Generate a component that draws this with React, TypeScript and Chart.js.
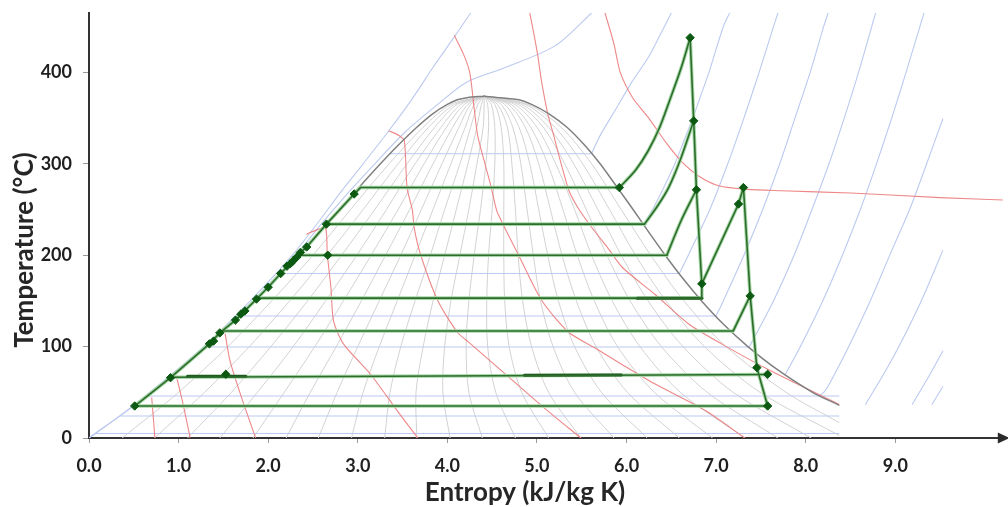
import React, { useEffect, useRef } from 'react';
import { Chart, registerables } from 'chart.js';

Chart.register(...registerables);

type P = [number, number];

// ---------- axes ----------
const xTickValues = [0, 1, 2, 3, 4, 5, 6, 7, 8, 9];
const yTickValues = [0, 100, 200, 300, 400];
const xMax = 10.2;
const yMax = 465;
const xTitle = 'Entropy (kJ/kg K)';
const yTitle = 'Temperature (°C)';

// ---------- saturation dome ----------
const satLiquid: P[] = [[0.505, 35], [0.704, 50], [1.016, 75], [1.307, 100], [1.581, 125], [1.842, 150], [2.091, 175], [2.331, 200], [2.564, 225], [2.793, 250], [3.021, 275], [3.253, 300], [3.448, 320], [3.659, 340], [3.84, 355], [4.0, 365], [4.111, 370], [4.22, 372.3], [4.41, 374]];
const satVapor: P[] = [[4.41, 374], [4.6, 372.3], [4.801, 370], [4.94, 365], [5.13, 355], [5.335, 340], [5.536, 320], [5.705, 300], [5.89, 275], [6.073, 250], [6.25, 225], [6.432, 200], [6.625, 175], [6.838, 150], [7.077, 125], [7.355, 100], [7.681, 75], [8.076, 50], [8.37, 36]];

// ---------- constant quality lines (x = 0.04 ... 0.96) ----------
const qualityLines: P[][] = [
  [[0.37, 0], [1.0, 50], [1.55, 100], [2.04, 150], [2.5, 200], [2.92, 250], [3.35, 300], [3.73, 340], [4.04, 365], [4.41, 374]],
  [[0.73, 0], [1.29, 50], [1.79, 100], [2.24, 150], [2.66, 200], [3.06, 250], [3.45, 300], [3.79, 340], [4.08, 365], [4.41, 374]],
  [[1.1, 0], [1.59, 50], [2.03, 100], [2.44, 150], [2.82, 200], [3.19, 250], [3.55, 300], [3.86, 340], [4.11, 365], [4.41, 374]],
  [[1.46, 0], [1.88, 50], [2.28, 100], [2.64, 150], [2.99, 200], [3.32, 250], [3.64, 300], [3.93, 340], [4.15, 365], [4.41, 374]],
  [[1.83, 0], [2.18, 50], [2.52, 100], [2.84, 150], [3.15, 200], [3.45, 250], [3.74, 300], [3.99, 340], [4.19, 365], [4.41, 374]],
  [[2.2, 0], [2.47, 50], [2.76, 100], [3.04, 150], [3.31, 200], [3.58, 250], [3.84, 300], [4.06, 340], [4.23, 365], [4.41, 374]],
  [[2.56, 0], [2.77, 50], [3.0, 100], [3.24, 150], [3.48, 200], [3.71, 250], [3.94, 300], [4.13, 340], [4.26, 365], [4.41, 374]],
  [[2.93, 0], [3.06, 50], [3.24, 100], [3.44, 150], [3.64, 200], [3.84, 250], [4.04, 300], [4.2, 340], [4.3, 365], [4.41, 374]],
  [[3.3, 0], [3.36, 50], [3.48, 100], [3.64, 150], [3.81, 200], [3.97, 250], [4.14, 300], [4.26, 340], [4.34, 365], [4.41, 374]],
  [[3.66, 0], [3.65, 50], [3.73, 100], [3.84, 150], [3.97, 200], [4.1, 250], [4.23, 300], [4.33, 340], [4.38, 365], [4.41, 374]],
  [[4.03, 0], [3.95, 50], [3.97, 100], [4.04, 150], [4.14, 200], [4.24, 250], [4.33, 300], [4.4, 340], [4.41, 365], [4.41, 374]],
  [[4.39, 0], [4.24, 50], [4.21, 100], [4.24, 150], [4.3, 200], [4.37, 250], [4.43, 300], [4.46, 340], [4.45, 365], [4.41, 374]],
  [[4.76, 0], [4.54, 50], [4.45, 100], [4.44, 150], [4.46, 200], [4.5, 250], [4.53, 300], [4.53, 340], [4.49, 365], [4.41, 374]],
  [[5.13, 0], [4.83, 50], [4.69, 100], [4.64, 150], [4.63, 200], [4.63, 250], [4.63, 300], [4.6, 340], [4.53, 365], [4.41, 374]],
  [[5.49, 0], [5.13, 50], [4.94, 100], [4.84, 150], [4.79, 200], [4.76, 250], [4.72, 300], [4.67, 340], [4.56, 365], [4.41, 374]],
  [[5.86, 0], [5.42, 50], [5.18, 100], [5.04, 150], [4.96, 200], [4.89, 250], [4.82, 300], [4.73, 340], [4.6, 365], [4.41, 374]],
  [[6.23, 0], [5.72, 50], [5.42, 100], [5.24, 150], [5.12, 200], [5.02, 250], [4.92, 300], [4.8, 340], [4.64, 365], [4.41, 374]],
  [[6.59, 0], [6.01, 50], [5.66, 100], [5.44, 150], [5.28, 200], [5.15, 250], [5.02, 300], [4.87, 340], [4.68, 365], [4.41, 374]],
  [[6.96, 0], [6.31, 50], [5.9, 100], [5.64, 150], [5.45, 200], [5.29, 250], [5.12, 300], [4.93, 340], [4.71, 365], [4.41, 374]],
  [[7.32, 0], [6.6, 50], [6.15, 100], [5.84, 150], [5.61, 200], [5.42, 250], [5.21, 300], [5.0, 340], [4.75, 365], [4.41, 374]],
  [[7.69, 0], [6.9, 50], [6.39, 100], [6.04, 150], [5.78, 200], [5.55, 250], [5.31, 300], [5.07, 340], [4.79, 365], [4.41, 374]],
  [[8.06, 0], [7.19, 50], [6.63, 100], [6.24, 150], [5.94, 200], [5.68, 250], [5.41, 300], [5.13, 340], [4.83, 365], [4.41, 374]],
  [[8.37, 3], [7.49, 50], [6.87, 100], [6.44, 150], [6.1, 200], [5.81, 250], [5.51, 300], [5.2, 340], [4.87, 365], [4.41, 374]],
  [[8.37, 17], [7.78, 50], [7.11, 100], [6.64, 150], [6.27, 200], [5.94, 250], [5.61, 300], [5.27, 340], [4.9, 365], [4.41, 374]],
];

// ---------- isenthalps (red) ----------
const isenthalp1: P[] = [[0.7, 44], [0.72, 20], [0.735, 0]];
const isenthalp2: P[] = [[0.98, 66], [1.05, 37], [1.13, 0]];
const isenthalp3: P[] = [[1.52, 114], [1.575, 84], [1.69, 48], [1.86, 0]];
const isenthalp4: P[] = [[2.43, 223], [2.55, 228], [2.64, 230], [2.66, 201], [2.7, 165], [2.73, 128], [2.84, 103], [3.14, 70], [3.44, 30], [3.67, 0]];
const isenthalp5: P[] = [[3.35, 336], [3.46, 331], [3.52, 325], [3.55, 274], [3.61, 249], [3.63, 230], [3.7, 201], [3.89, 151], [4.11, 116], [4.26, 103], [4.67, 68], [5.08, 33], [5.49, 0]];
const isenthalp6: P[] = [[4.08, 440], [4.18, 420], [4.25, 400], [4.3, 360], [4.34, 330], [4.42, 300], [4.49, 274], [4.55, 249], [4.6, 238], [4.79, 201], [5.05, 151], [5.35, 116], [5.64, 99], [5.94, 81], [6.32, 59], [6.88, 30], [7.32, 0]];
const isenthalp7: P[] = [[4.92, 465], [4.97, 440], [5.01, 418], [5.05, 391], [5.12, 355], [5.19, 330], [5.27, 300], [5.36, 270], [5.47, 250], [5.6, 232], [5.79, 208], [5.96, 186], [6.32, 157], [6.69, 125], [7.06, 103], [7.62, 73], [8.37, 37]];
const isenthalp8: P[] = [[5.76, 465], [5.86, 431], [5.93, 400], [6.07, 372], [6.24, 351], [6.45, 322], [6.61, 303], [6.8, 287], [7.03, 276], [7.35, 272], [7.73, 270.5], [8.5, 268], [9.5, 263], [10.3, 260]];

// ---------- isobars (blue) ----------
const isobarWet: P[][] = [
  [[3.36, 311], [5.61, 311]],
  [[2.14, 180], [6.59, 180]],
  [[1.66, 133.5], [7.0, 133.5]],
  [[1.3, 99.6], [7.36, 99.6]],
  [[0.65, 46], [8.37, 46]],
  [[0.35, 24], [8.37, 24]],
  [[0.08, 5], [8.37, 5]],
];
const isobarSuperheated: P[][] = [
  [[5.61, 311], [5.7, 330], [5.87, 358], [6.05, 388], [6.24, 416], [6.38, 442], [6.5, 465]],
  [[6.19, 234], [6.29, 250], [6.42, 275], [6.54, 300], [6.64, 325], [6.74, 350], [6.83, 375], [6.92, 400], [7.08, 450], [7.15, 465]],
  [[6.59, 180], [6.69, 200], [6.93, 250], [7.13, 300], [7.31, 350], [7.48, 400], [7.64, 450], [7.69, 465]],
  [[7.0, 133.5], [7.08, 150], [7.31, 200], [7.52, 250], [7.71, 300], [7.88, 350], [8.05, 400], [8.2, 450], [8.25, 465]],
  [[7.37, 99.6], [7.64, 150], [7.87, 200], [8.07, 250], [8.26, 300], [8.43, 350], [8.59, 400], [8.78, 465]],
  [[7.77, 69], [7.94, 100], [8.19, 150], [8.41, 200], [8.61, 250], [8.79, 300], [8.96, 350], [9.12, 400], [9.32, 465]],
  [[8.15, 46], [8.22, 52], [8.35, 75], [8.48, 100], [8.72, 150], [8.96, 205], [9.16, 250], [9.35, 300], [9.53, 349]],
  [[8.67, 37], [8.9, 75], [9.04, 100], [9.29, 150], [9.53, 205]],
  [[9.19, 37], [9.36, 65], [9.53, 95]],
  [[9.41, 37], [9.53, 56]],
];
const isobarHigh1: P[] = [[0.0, 0], [0.5, 36], [1.28, 100], [1.8, 150], [2.27, 200], [2.55, 235], [2.81, 269], [3.06, 300], [3.33, 334], [3.6, 370], [3.85, 407], [4.05, 435], [4.26, 465]];
const isobarHigh2: P[] = [[0.0, 0], [0.51, 36], [1.3, 100], [1.83, 150], [2.31, 200], [2.6, 235], [2.9, 269], [3.19, 300], [3.52, 334], [3.88, 364], [4.21, 389], [4.61, 404], [5.2, 429], [5.61, 465]];

// ---------- cycle (green) ----------
const pumpLiquidLine: P[] = [[0.51, 35], [0.91, 66], [1.344, 103], [1.46, 115], [1.635, 129], [1.87, 152], [2.0, 165], [2.14, 180], [2.36, 203], [2.43, 209], [2.65, 234], [2.96, 267], [3.03, 274]];
const boil274: P[] = [[3.03, 274], [5.92, 274]];
const line234: P[] = [[2.65, 234], [6.2, 234]];
const line200: P[] = [[2.33, 200], [6.45, 200]];
const line153: P[] = [[1.87, 153], [6.84, 153]];
const line117: P[] = [[1.47, 117], [7.19, 117], [7.38, 155.5]];
const line69: P[] = [[0.91, 66.5], [7.575, 69.5]];
const line35: P[] = [[0.51, 35], [7.575, 35]];
const expansion1: P[] = [[6.71, 438], [6.75, 347], [6.78, 271.6], [6.84, 168.7], [6.84, 153]];
const reheat: P[] = [[6.84, 168.7], [7.25, 256], [7.305, 274]];
const expansion2: P[] = [[7.305, 274], [7.38, 155.5], [7.455, 77], [7.575, 35]];
const superheat1: P[] = [[5.92, 274], [6.1, 293], [6.24, 314], [6.37, 340], [6.48, 369], [6.61, 405], [6.71, 438]];
const superheat2: P[] = [[6.2, 234], [6.34, 253], [6.47, 274], [6.61, 307], [6.75, 347]];
const superheat3: P[] = [[6.45, 200], [6.61, 238], [6.78, 271.6]];
const overlapSegments: P[][] = [
  [[1.1, 67.6], [1.75, 67.6]],
  [[4.86, 68.6], [5.94, 68.8]],
  [[6.12, 153], [6.84, 153]],
];
const cycleMarkers: P[] = [
  [0.51, 35], [0.91, 66], [1.344, 103], [1.39, 106], [1.46, 115], [1.635, 129], [1.695, 135.5], [1.74, 139],
  [1.87, 152], [2.0, 165], [2.14, 180], [2.21, 188], [2.25, 191], [2.28, 194], [2.32, 198], [2.36, 203],
  [2.43, 209], [2.65, 234], [2.96, 267], [1.527, 69.7], [2.665, 200],
  [5.92, 274], [6.71, 438], [6.75, 347], [6.78, 271.6], [6.84, 168.7], [7.305, 274], [7.25, 256],
  [7.38, 155.5], [7.455, 77], [7.575, 69.7], [7.575, 35],
];

// ---------- styles ----------
const RED = 'rgba(236,122,122,0.9)';
const BLUE = '#bccaf0';
const QUALITY = '#d2d2d2';
const DOME = '#808080';
const GREEN_CORE = '#2c6d2c';
const GREEN_HALO = '#a6d6a6';
const MARKER = '#0c5a12';

const toXY = (pts: P[]) => pts.map(([x, y]) => ({ x, y }));

const mk = (pts: P[], color: string, width: number, order: number, tension = 0) => ({
  data: toXY(pts),
  showLine: true,
  borderColor: color,
  backgroundColor: color,
  borderWidth: width,
  pointRadius: 0,
  pointHoverRadius: 0,
  tension,
  order,
  fill: false,
  borderJoinStyle: 'round' as const,
  borderCapStyle: 'round' as const,
});

const decorPlugin = {
  id: 'decor',
  afterDraw(chart: any) {
    const { ctx, chartArea } = chart;
    ctx.save();
    // arrow head on the x axis
    const y = chartArea.bottom;
    ctx.fillStyle = '#2a2a2a';
    ctx.beginPath();
    ctx.moveTo(chartArea.right + 7, y);
    ctx.lineTo(chartArea.right - 5, y - 5.5);
    ctx.lineTo(chartArea.right - 5, y + 5.5);
    ctx.closePath();
    ctx.fill();
    // axis titles
    ctx.fillStyle = '#262626';
    ctx.font = 'bold 26px Lato, "Open Sans", sans-serif';
    ctx.textAlign = 'center';
    ctx.textBaseline = 'alphabetic';
    ctx.fillText(xTitle, 525, 501);
    ctx.translate(33, 250);
    ctx.rotate(-Math.PI / 2);
    ctx.fillText(yTitle, 0, 0);
    ctx.restore();
  },
};

export default function App() {
  const ref = useRef<HTMLCanvasElement | null>(null);

  useEffect(() => {
    if (!ref.current) return;
    document.body.style.margin = '0';
    const datasets: any[] = [];

    datasets.push({
      data: toXY(cycleMarkers),
      showLine: false,
      pointStyle: 'rectRot',
      pointRadius: 4.2,
      pointHoverRadius: 4.2,
      pointBackgroundColor: MARKER,
      pointBorderColor: MARKER,
      pointBorderWidth: 1,
      order: 0,
    });

    const greenStraight = [pumpLiquidLine, boil274, line234, line200, line153, line117, line69, line35, expansion1, reheat, expansion2];
    const greenCurves = [superheat1, superheat2, superheat3];
    greenStraight.forEach((g) => {
      datasets.push(mk(g, GREEN_CORE, 1.6, 1));
      datasets.push(mk(g, GREEN_HALO, 3.6, 2));
    });
    greenCurves.forEach((g) => {
      datasets.push(mk(g, GREEN_CORE, 1.6, 1, 0.3));
      datasets.push(mk(g, GREEN_HALO, 3.6, 2, 0.3));
    });
    overlapSegments.forEach((g) => datasets.push(mk(g, '#1f5a1f', 3, 1)));

    datasets.push(mk(satLiquid, DOME, 1.5, 3, 0.3));
    datasets.push(mk(satVapor, DOME, 1.5, 3, 0.3));

    [isenthalp1, isenthalp2, isenthalp3, isenthalp4, isenthalp5, isenthalp6, isenthalp7, isenthalp8].forEach((r) =>
      datasets.push(mk(r, RED, 1.1, 4, 0.25))
    );
    isobarWet.forEach((b) => datasets.push(mk(b, BLUE, 1.1, 5)));
    isobarSuperheated.forEach((b) => datasets.push(mk(b, BLUE, 1.1, 5, 0.3)));
    datasets.push(mk(isobarHigh1, BLUE, 1.1, 5, 0.3));
    datasets.push(mk(isobarHigh2, BLUE, 1.1, 5, 0.3));
    qualityLines.forEach((q) => datasets.push(mk(q, QUALITY, 1, 6, 0.3)));

    const tickFont = { family: 'Lato, "Open Sans", sans-serif', size: 18, weight: 'bold' as const };

    const chart = new Chart(ref.current, {
      type: 'scatter',
      data: { datasets },
      options: {
        animation: false,
        responsive: false,
        maintainAspectRatio: false,
        events: [],
        layout: { padding: { top: 13, right: 3, bottom: 0, left: 0 } },
        plugins: { legend: { display: false }, tooltip: { enabled: false } },
        scales: {
          x: {
            type: 'linear',
            min: 0,
            max: xMax,
            afterFit: (s: any) => { s.height = 69; s.paddingLeft = 0; s.paddingRight = 0; },
            afterBuildTicks: (s: any) => { s.ticks = xTickValues.map((v) => ({ value: v })); },
            ticks: {
              callback: (v: any) => Number(v).toFixed(1),
              font: tickFont,
              color: '#1f1f1f',
              padding: 12,
              maxRotation: 0,
              autoSkip: false,
            },
            grid: { drawOnChartArea: false, drawTicks: true, tickLength: 5, tickColor: '#9a9a9a', tickWidth: 1 },
            border: { display: true, color: '#333333', width: 2 },
          },
          y: {
            type: 'linear',
            min: 0,
            max: yMax,
            afterFit: (s: any) => { s.width = 89; s.paddingTop = 0; s.paddingBottom = 0; },
            afterBuildTicks: (s: any) => { s.ticks = yTickValues.map((v) => ({ value: v })); },
            ticks: {
              callback: (v: any) => String(v),
              font: tickFont,
              color: '#1f1f1f',
              padding: 11,
              autoSkip: false,
            },
            grid: { drawOnChartArea: false, drawTicks: true, tickLength: 6, tickColor: '#9a9a9a', tickWidth: 1 },
            border: { display: true, color: '#333333', width: 2 },
          },
        },
      },
      plugins: [decorPlugin],
    });

    return () => chart.destroy();
  }, []);

  return (
    <div style={{ position: 'fixed', left: 0, top: 0, width: 1008, height: 507, background: '#ffffff' }}>
      <canvas ref={ref} width={1008} height={507} style={{ width: 1008, height: 507, display: 'block' }} />
    </div>
  );
}
